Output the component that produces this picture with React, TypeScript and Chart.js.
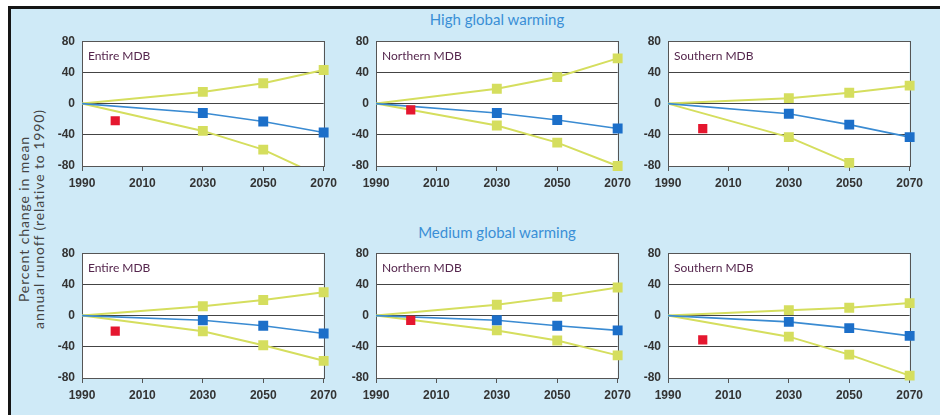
import React, { useEffect, useRef } from "react";
import { Chart, registerables } from "chart.js";

Chart.register(...registerables);

// ---------- data ----------
const years = [1990, 2030, 2050, 2070];
const xTicks = [1990, 2010, 2030, 2050, 2070];
const yTicks = [-80, -40, 0, 40, 80];
const regions = ["Entire MDB", "Northern MDB", "Southern MDB"];
const scenarios = ["High global warming", "Medium global warming"];
const axisTitle = ["Percent change in mean", "annual runoff (relative to 1990)"];

// per region: [Entire, Northern, Southern]
const highWet = [
  [0, 15, 26, 43],
  [0, 19, 34, 58],
  [0, 7, 14, 23],
];
const highMedian = [
  [0, -12, -23, -37],
  [0, -12, -21, -32],
  [0, -13, -27, -43],
];
const highDry = [
  [0, -35, -59, -95],
  [0, -28, -50, -80],
  [0, -43, -76, null],
];
const mediumWet = [
  [0, 12, 20, 30],
  [0, 14, 24, 36],
  [0, 7, 10, 16],
];
const mediumMedian = [
  [0, -6, -13, -23],
  [0, -6, -13, -19],
  [0, -8, -16, -26],
];
const mediumDry = [
  [0, -20, -38, -58],
  [0, -19, -32, -51],
  [0, -27, -50, -77],
];
const observedYear = [2001, 2001.5, 2001.5];
const highObserved = [-22, -8, -32];
const mediumObserved = [-20, -6, -31];

// ---------- styles ----------
const YELLOW = "#d5de5e";
const BLUE_LINE = "#3a8bd2";
const BLUE_POINT = "#1c6fc9";
const RED = "#e5172f";
const BG = "#cfeaf7";
const TICK_FONT = "'Liberation Sans Narrow', 'Liberation Sans', sans-serif";
const TEXT_FONT = "Lato, 'Open Sans', sans-serif";

const PLOT_W = 246;
const PLOT_H = 129;
const PAD_L = 44;
const PAD_T = 10;
const PAD_R = 14;
const PAD_B = 26;
const colLefts = [82, 376, 668];
const rowTops = [37, 249];

const panelPlugin = {
  id: "panelFrame",
  beforeDraw(chart: any) {
    const { ctx, chartArea: a } = chart;
    ctx.save();
    ctx.fillStyle = "#ffffff";
    ctx.fillRect(a.left, a.top, a.right - a.left, a.bottom - a.top);
    ctx.restore();
  },
  beforeDatasetsDraw(chart: any, _args: any, opts: any) {
    const { ctx, chartArea: a } = chart;
    ctx.save();
    ctx.strokeStyle = "#555555";
    ctx.lineWidth = 1;
    ctx.strokeRect(
      Math.round(a.left) + 0.5,
      Math.round(a.top) + 0.5,
      Math.round(a.right - a.left),
      Math.round(a.bottom - a.top)
    );
    ctx.fillStyle = "#55264d";
    ctx.font = `12px ${TEXT_FONT}`;
    ctx.textBaseline = "middle";
    ctx.textAlign = "left";
    ctx.fillText(opts.label || "", a.left + 6, a.top + 15);
    ctx.restore();
  },
};

type PanelProps = {
  label: string;
  wet: (number | null)[];
  median: (number | null)[];
  dry: (number | null)[];
  obsX: number;
  obsY: number;
  left: number;
  top: number;
};

function Panel({ label, wet, median, dry, obsX, obsY, left, top }: PanelProps) {
  const ref = useRef<HTMLCanvasElement | null>(null);
  const W = PLOT_W + PAD_L + PAD_R;
  const H = PLOT_H + PAD_T + PAD_B;

  useEffect(() => {
    if (!ref.current) return;
    const pts = (arr: (number | null)[]) => years.map((x, i) => ({ x, y: arr[i] }));
    const radius = (ctx: any) => (ctx.dataIndex === 0 ? 0 : 7);
    const clipFor = (arr: (number | null)[]) =>
      arr.some((v) => v !== null && (v < -80 || v > 80))
        ? { left: 10, top: 10, right: 10, bottom: 0 }
        : 10;
    const lineSet = (arr: (number | null)[], line: string, point: string, bw: number) => ({
      data: pts(arr),
      borderColor: line,
      backgroundColor: point,
      pointBackgroundColor: point,
      pointBorderWidth: 0,
      borderWidth: bw,
      pointStyle: "rect",
      pointRadius: radius,
      pointHoverRadius: radius,
      spanGaps: false,
      tension: 0,
      clip: clipFor(arr),
    });
    const chart = new Chart(ref.current, {
      type: "line",
      data: {
        datasets: [
          {
            data: [{ x: obsX, y: obsY }],
            showLine: false,
            pointStyle: "rect",
            pointRadius: 6.5,
            pointHoverRadius: 6.5,
            pointBackgroundColor: RED,
            pointBorderWidth: 0,
            borderColor: RED,
            backgroundColor: RED,
            clip: 10,
          } as any,
          lineSet(median, BLUE_LINE, BLUE_POINT, 1.6) as any,
          lineSet(wet, YELLOW, YELLOW, 2) as any,
          lineSet(dry, YELLOW, YELLOW, 2) as any,
        ],
      },
      options: {
        animation: false,
        responsive: false,
        events: [],
        layout: { padding: { left: 0, top: PAD_T, right: PAD_R, bottom: 0 } },
        plugins: {
          legend: { display: false },
          tooltip: { enabled: false },
          panelFrame: { label },
        } as any,
        scales: {
          x: {
            type: "linear",
            min: 1990,
            max: 2070,
            afterBuildTicks: (s: any) => {
              s.ticks = xTicks.map((v) => ({ value: v }));
            },
            afterFit: (s: any) => {
              s.height = PAD_B;
            },
            ticks: {
              color: "#333333",
              padding: 5,
              maxRotation: 0,
              autoSkip: false,
              font: { family: TICK_FONT, size: 12, weight: "bold" },
              callback: (v: any) => String(v),
            },
            grid: { drawOnChartArea: false, drawTicks: true, tickLength: 5, color: "#555555" },
            border: { display: false },
          },
          y: {
            type: "linear",
            min: -80,
            max: 80,
            afterBuildTicks: (s: any) => {
              s.ticks = yTicks.map((v) => ({ value: v }));
            },
            afterFit: (s: any) => {
              s.width = PAD_L;
            },
            ticks: {
              color: "#333333",
              padding: 7,
              autoSkip: false,
              font: { family: TICK_FONT, size: 12, weight: "bold" },
            },
            grid: { drawTicks: false, color: "#444444", lineWidth: 1 },
            border: { display: false },
          },
        },
      } as any,
      plugins: [panelPlugin as any],
    });
    return () => chart.destroy();
  }, []);

  return (
    <canvas
      ref={ref}
      width={W}
      height={H}
      style={{ position: "absolute", left: left - PAD_L, top: top - PAD_T, width: W, height: H }}
    />
  );
}

export default function App() {
  const rows = [
    { title: scenarios[0], wet: highWet, median: highMedian, dry: highDry, obs: highObserved, titleY: 19 },
    { title: scenarios[1], wet: mediumWet, median: mediumMedian, dry: mediumDry, obs: mediumObserved, titleY: 232 },
  ];
  return (
    <div style={{ position: "absolute", left: 0, top: 0, width: 940, height: 415, overflow: "hidden", background: "#ffffff" }}>
      <div
        style={{
          position: "absolute",
          left: 8,
          top: 6,
          width: 932,
          height: 409,
          background: BG,
          borderTop: "3px solid #151515",
          borderLeft: "3px solid #151515",
          boxSizing: "border-box",
        }}
      />
      {rows.map((row, r) => (
        <div
          key={"t" + r}
          style={{
            position: "absolute",
            left: 497,
            top: row.titleY,
            transform: "translate(-50%, -50%)",
            whiteSpace: "nowrap",
            color: "#3a8fd6",
            font: `15px ${TEXT_FONT}`,
          }}
        >
          {row.title}
        </div>
      ))}
      <div
        style={{
          position: "absolute",
          left: 31,
          top: 219,
          width: 260,
          transform: "translate(-50%, -50%) rotate(-90deg)",
          textAlign: "center",
          color: "#444444",
          font: `14px ${TEXT_FONT}`,
          letterSpacing: "0.9px",
          lineHeight: "15px",
          whiteSpace: "nowrap",
        }}
      >
        <div>{axisTitle[0]}</div>
        <div>{axisTitle[1]}</div>
      </div>
      {rows.map((row, r) =>
        regions.map((reg, c) => (
          <Panel
            key={r + "-" + c}
            label={reg}
            wet={row.wet[c]}
            median={row.median[c]}
            dry={row.dry[c]}
            obsX={observedYear[c]}
            obsY={row.obs[c]}
            left={colLefts[c]}
            top={rowTops[r]}
          />
        ))
      )}
    </div>
  );
}
